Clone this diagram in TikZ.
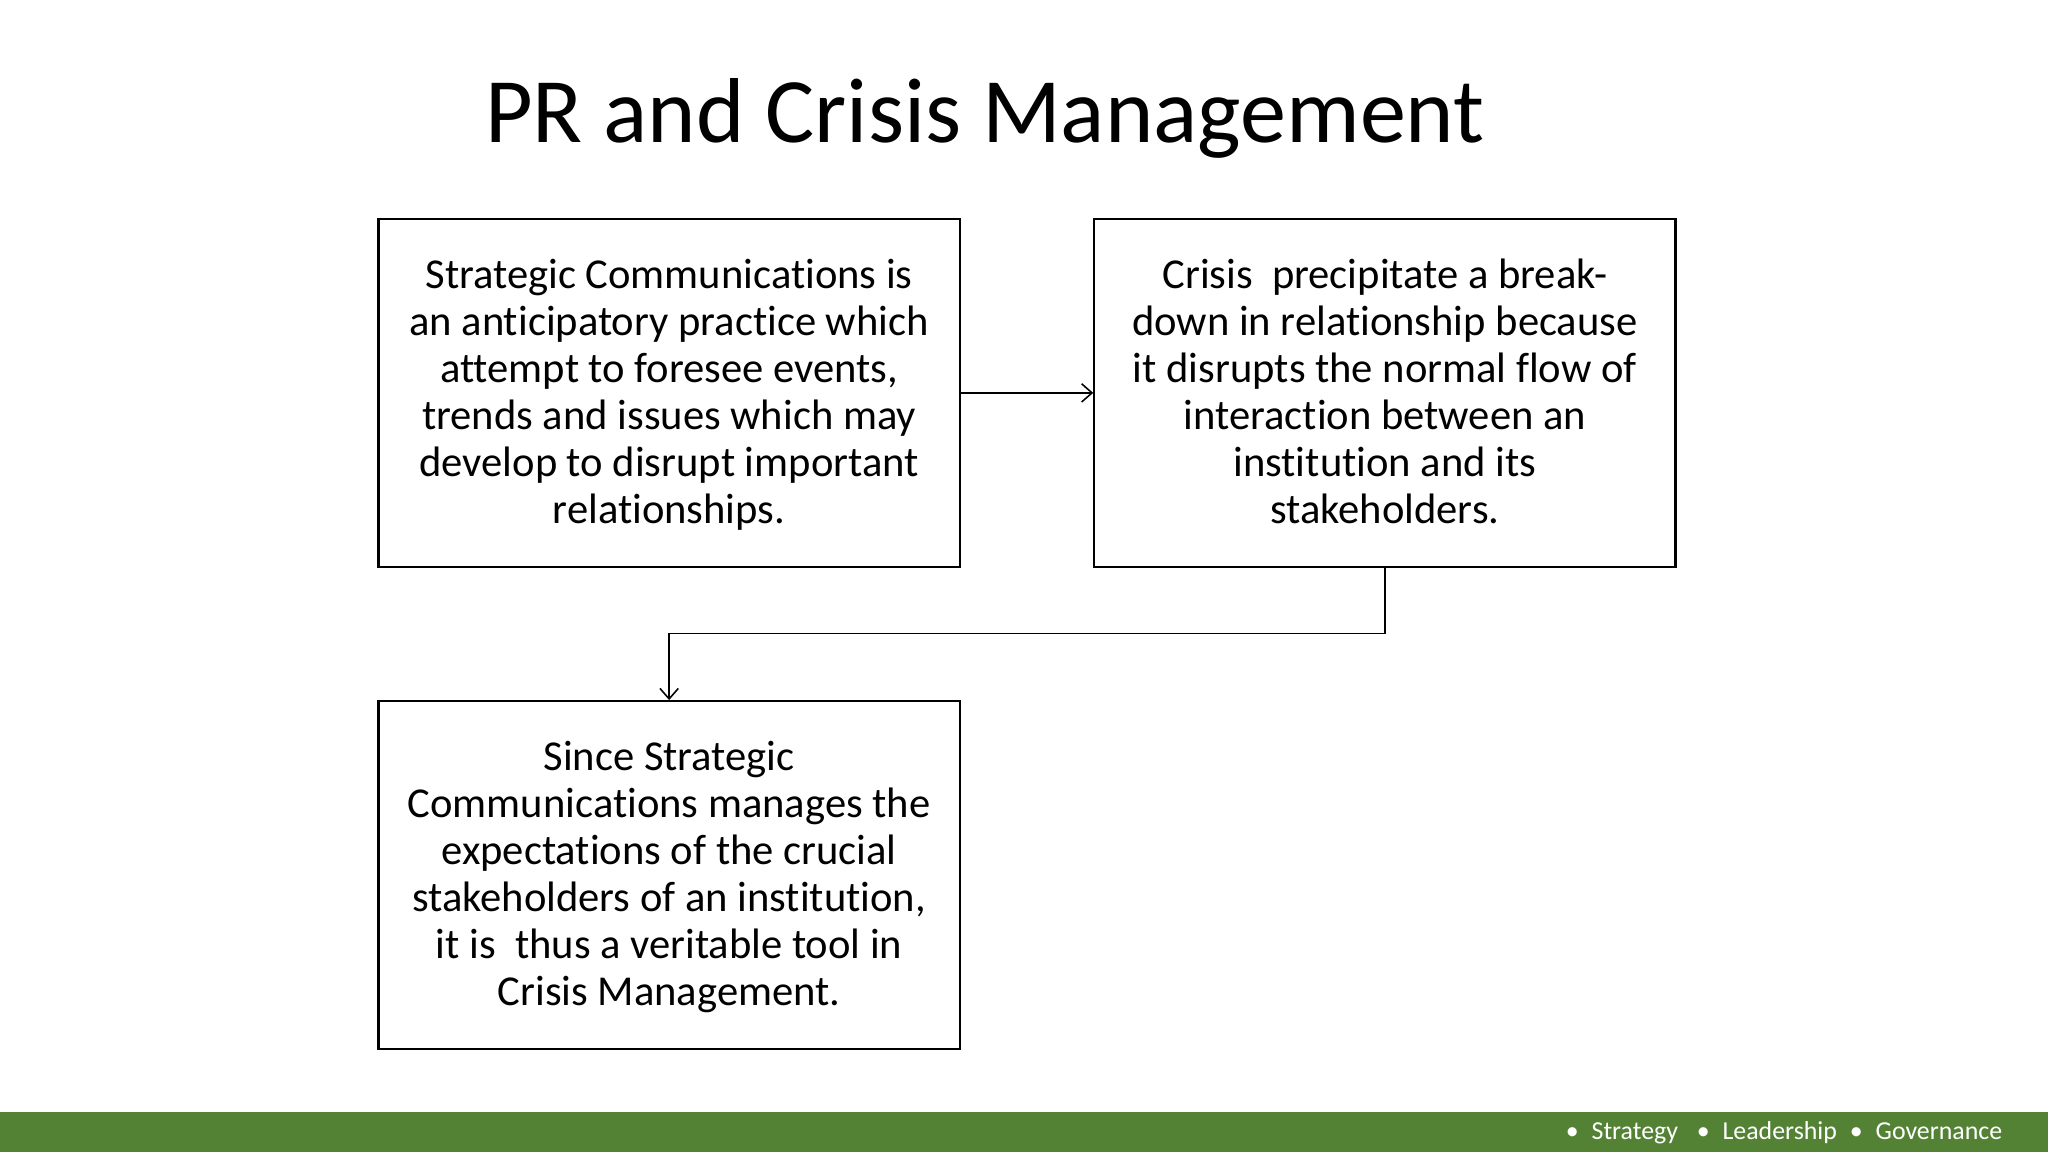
\documentclass[tikz,border=0pt]{standalone}
\usepackage{fontspec}
\setmainfont[Ligatures={NoCommon}]{Carlito}
\usetikzlibrary{arrows.meta}
\definecolor{barg}{HTML}{548235}
\begin{document}
\begin{tikzpicture}[x=0.5pt,y=-0.5pt,
  box/.style={draw,line width=0.8pt,minimum width=222.5pt,minimum height=133pt,anchor=north west,inner sep=0pt},
  txt/.style={align=center,anchor=north,inner sep=0pt,font=\fontsize{16.3}{18}\selectfont},
  conn/.style={line width=0.6pt,-{Straight Barb[length=4pt,width=7pt]}}]
\useasboundingbox (0,0) rectangle (1568,882);
\fill[barg] (0,851) rectangle (1568,882);
\node[anchor=east,text=white,font=\fontsize{9.9}{10}\selectfont] (foot) at (1540,867) {•\enspace Strategy\enspace\ •\enspace Leadership\enspace •\enspace Governance};
\node[font=\fontsize{35.3}{40}\selectfont] (title) at (754,91) {PR and Crisis Management};
\node[box] (b1) at (289,167) {};
\node[box] (b2) at (837,167) {};
\node[box] (b3) at (289,536) {};
\node[txt] at ([yshift=-15.5pt]b1.north) {Strategic Communications is\\an anticipatory practice which\\attempt to foresee events,\\trends and issues which may\\develop to disrupt important\\relationships.};
\node[txt] at ([yshift=-15.5pt]b2.north) {Crisis\ \ precipitate a break-\\down in relationship because\\it disrupts the normal flow of\\interaction between an\\institution and its\\stakeholders.};
\node[txt] at ([yshift=-15.5pt]b3.north) {Since Strategic\\Communications manages the\\expectations of the crucial\\stakeholders of an institution,\\it is\ \ thus a veritable tool in\\Crisis Management.};
\coordinate (m) at (1059,485);
\draw[conn] (b1.east) -- (b2.west);
\draw[conn] (b2.south) |- (b3.north |- m) -- (b3.north);
\end{tikzpicture}
\end{document}
